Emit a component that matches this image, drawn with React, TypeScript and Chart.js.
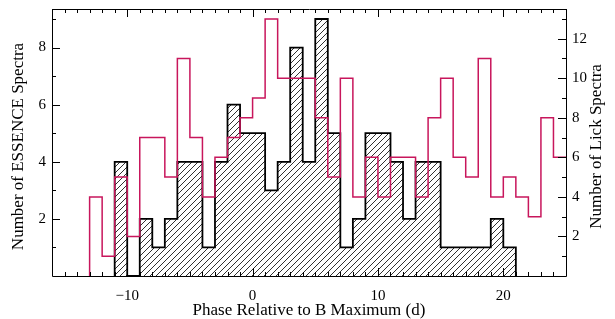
import React, { useEffect, useRef } from "react";
import { Chart, registerables } from "chart.js";

Chart.register(...registerables);

// Bin start phases (days), bin width 1 day
const phaseBins = [-13, -12, -11, -10, -9, -8, -7, -6, -5, -4, -3, -2, -1, 0, 1, 2, 3, 4, 5, 6, 7, 8, 9, 10, 11, 12, 13, 14, 15, 16, 17, 18, 19, 20, 21, 22, 23, 24];
const binWidth = 1;
const essenceCounts = [0, 0, 4, 0, 2, 1, 2, 4, 4, 1, 4, 6, 5, 5, 3, 4, 8, 4, 9, 5, 1, 2, 5, 5, 4, 2, 4, 4, 1, 1, 1, 1, 2, 1, 0, 0, 0, 0];
const lickCounts = [4, 1, 5, 2, 7, 7, 5, 11, 7, 4, 6, 7, 8, 9, 13, 10, 10, 10, 8, 5, 10, 4, 6, 4, 6, 6, 4, 8, 10, 6, 5, 11, 4, 5, 4, 3, 8, 6];

const xTickLabels = [-10, 0, 10, 20];
const essenceTickLabels = [2, 4, 6, 8];
const lickTickLabels = [2, 4, 6, 8, 10, 12];

const X_MIN = -16;
const X_MAX = 25;
const ESSENCE_MAX = 9.35;
const LICK_MAX = 13.5;

const FONT = "'Liberation Serif', 'Times New Roman', serif";
const RED = "rgb(200, 22, 92)";

function stepPoints(counts: number[], closeToZero: boolean) {
  const first = counts.findIndex((v) => v !== 0);
  let last = counts.length - 1;
  while (last > 0 && counts[last] === 0) last--;
  const pts: { x: number; y: number }[] = [];
  pts.push({ x: phaseBins[first], y: 0 });
  for (let i = first; i <= last; i++) pts.push({ x: phaseBins[i], y: counts[i] });
  const end = phaseBins[last] + binWidth;
  pts.push({ x: end, y: counts[last] });
  if (closeToZero) pts.push({ x: end, y: 0 });
  return pts;
}

function makeHatch(): CanvasPattern | string {
  const c = document.createElement("canvas");
  const s = 6;
  c.width = s;
  c.height = s;
  const g = c.getContext("2d");
  if (!g) return "#fff";
  g.fillStyle = "#ffffff";
  g.fillRect(0, 0, s, s);
  g.strokeStyle = "#1a1a1a";
  g.lineWidth = 0.9;
  g.beginPath();
  g.moveTo(-1, s + 1);
  g.lineTo(s + 1, -1);
  g.moveTo(-1, 1);
  g.lineTo(1, -1);
  g.moveTo(s - 1, s + 1);
  g.lineTo(s + 1, s - 1);
  g.stroke();
  const p = g.createPattern(c, "repeat");
  return p || "#fff";
}

const framePlugin = {
  id: "idlFrame",
  afterDraw(chart: any) {
    const { ctx, chartArea } = chart;
    const { left, right, top, bottom } = chartArea;
    const xs = chart.scales.x;
    const yl = chart.scales.y;
    const yr = chart.scales.y1;
    ctx.save();
    ctx.strokeStyle = "#000";
    ctx.lineWidth = 1;
    ctx.beginPath();
    ctx.rect(Math.round(left) + 0.5, Math.round(top) + 0.5, Math.round(right - left), Math.round(bottom - top));
    ctx.stroke();
    ctx.beginPath();
    for (let v = X_MIN; v <= X_MAX; v++) {
      const px = Math.round(xs.getPixelForValue(v)) + 0.5;
      const len = v % 10 === 0 ? 8 : 4;
      ctx.moveTo(px, bottom);
      ctx.lineTo(px, bottom - len);
      ctx.moveTo(px, top);
      ctx.lineTo(px, top + len);
    }
    for (let v = 1; v <= Math.floor(ESSENCE_MAX); v++) {
      const py = Math.round(yl.getPixelForValue(v)) + 0.5;
      const len = v % 2 === 0 ? 8 : 4;
      ctx.moveTo(left, py);
      ctx.lineTo(left + len, py);
    }
    for (let v = 1; v <= Math.floor(LICK_MAX); v++) {
      const py = Math.round(yr.getPixelForValue(v)) + 0.5;
      const len = v % 2 === 0 ? 8 : 4;
      ctx.moveTo(right, py);
      ctx.lineTo(right - len, py);
    }
    ctx.stroke();
    // axis titles, reading bottom-to-top
    ctx.fillStyle = "#000";
    ctx.font = `17px ${FONT}`;
    ctx.textAlign = "center";
    ctx.textBaseline = "middle";
    const cy = (top + bottom) / 2 + 4;
    ctx.save();
    ctx.translate(19, cy);
    ctx.rotate(-Math.PI / 2);
    ctx.fillText("Number of ESSENCE Spectra", 0, 0);
    ctx.restore();
    ctx.save();
    ctx.translate(597, cy);
    ctx.rotate(-Math.PI / 2);
    ctx.fillText("Number of Lick Spectra", 0, 0);
    ctx.restore();
    ctx.restore();
  },
};

function fitVertical(width: number) {
  return (s: any) => {
    s.width = width;
    s.paddingTop = 0;
    s.paddingBottom = 0;
  };
}

export default function App() {
  const ref = useRef<HTMLCanvasElement | null>(null);

  useEffect(() => {
    document.body.style.margin = "0";
    const canvas = ref.current;
    if (!canvas) return;
    const hatch = makeHatch();
    const chart = new Chart(canvas, {
      type: "line",
      data: {
        datasets: [
          {
            label: "Lick",
            data: stepPoints(lickCounts, false),
            yAxisID: "y1",
            stepped: true,
            borderColor: RED,
            borderWidth: 1.5,
            pointRadius: 0,
            fill: false,
            order: 0,
          },
          {
            label: "ESSENCE",
            data: stepPoints(essenceCounts, true),
            yAxisID: "y",
            stepped: true,
            borderColor: "#000",
            borderWidth: 1.8,
            pointRadius: 0,
            fill: "origin",
            backgroundColor: hatch as any,
            order: 1,
          },
        ],
      },
      options: {
        responsive: false,
        animation: false,
        devicePixelRatio: 1,
        layout: { padding: { top: 9, left: 0, right: 0, bottom: 0 } },
        plugins: {
          legend: { display: false },
          tooltip: { enabled: false },
        },
        scales: {
          x: {
            type: "linear",
            min: X_MIN,
            max: X_MAX,
            grid: { display: false, drawTicks: false },
            border: { display: false },
            afterFit: (s: any) => {
              s.height = 43;
              s.paddingLeft = 0;
              s.paddingRight = 0;
            },
            afterBuildTicks: (s: any) => {
              s.ticks = xTickLabels.map((v) => ({ value: v }));
            },
            ticks: {
              color: "#000",
              padding: 11,
              maxRotation: 0,
              autoSkip: false,
              font: { family: FONT, size: 15 },
              callback: (v: any) => (Number(v) < 0 ? "\u2212" + Math.abs(Number(v)) : String(v)),
            },
            title: {
              display: true,
              text: "Phase Relative to B Maximum (d)",
              color: "#000",
              font: { family: FONT, size: 17, lineHeight: 1 },
              padding: { top: 0, bottom: 0 },
            },
          },
          y: {
            type: "linear",
            position: "left",
            min: 0,
            max: ESSENCE_MAX,
            grid: { display: false, drawTicks: false },
            border: { display: false },
            afterFit: fitVertical(52),
            afterBuildTicks: (s: any) => {
              s.ticks = essenceTickLabels.map((v) => ({ value: v }));
            },
            ticks: {
              color: "#000",
              padding: 6,
              font: { family: FONT, size: 15 },
            },
          },
          y1: {
            type: "linear",
            position: "right",
            min: 0,
            max: LICK_MAX,
            grid: { display: false, drawTicks: false },
            border: { display: false },
            afterFit: fitVertical(49),
            afterBuildTicks: (s: any) => {
              s.ticks = lickTickLabels.map((v) => ({ value: v }));
            },
            ticks: {
              color: "#000",
              padding: 6,
              font: { family: FONT, size: 15 },
            },
          },
        },
      },
      plugins: [framePlugin],
    });
    return () => chart.destroy();
  }, []);

  return (
    <div style={{ width: 615, height: 319 }}>
      <canvas ref={ref} width={615} height={319} style={{ width: 615, height: 319, display: "block" }} />
    </div>
  );
}
